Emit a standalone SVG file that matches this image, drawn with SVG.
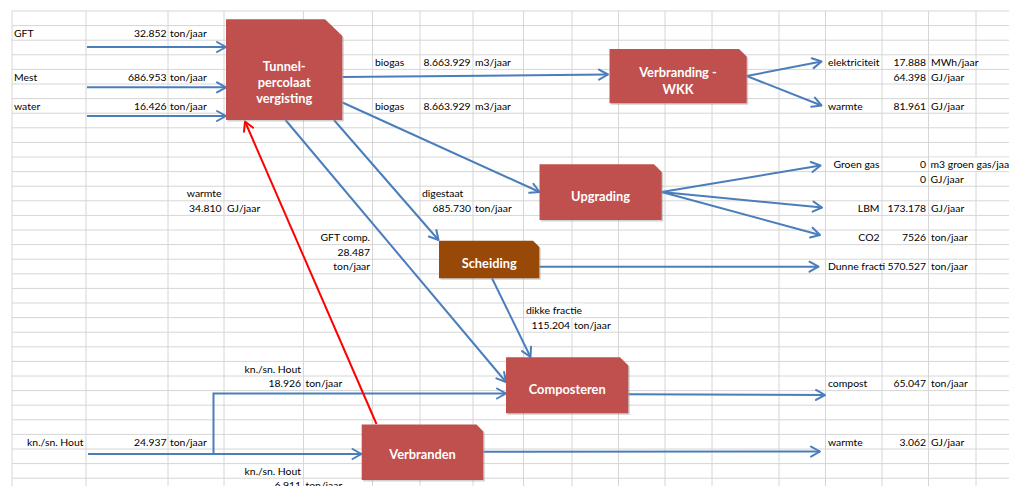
<svg xmlns="http://www.w3.org/2000/svg" width="1009" height="486" viewBox="0 0 1009 486">
  <style>
    .grid { stroke: #d6d6d6; stroke-width: 1; fill: none; }
    .cell { font-family: Lato, "Liberation Sans", sans-serif; font-size: 10.4px; fill: #000; }
    .r { text-anchor: end; }
    .box { fill: #c0504d; }
    .box-brown { fill: #984807; }
    .shadow { fill: #9a9a9a; opacity: 0.45; }
    .label { font-family: Lato, "Liberation Sans", sans-serif; font-size: 12.8px; font-weight: bold; fill: #fff; text-anchor: middle; }
    .conn { stroke: #4a7ebb; stroke-width: 2; fill: none; marker-end: url(#arrow); }
    .conn-red { stroke: #ff0000; stroke-width: 2; fill: none; marker-end: url(#arrow-red); }
  </style>
  <defs>
    <marker id="arrow" viewBox="-11 -7 13 14" refX="0" refY="0" markerWidth="13" markerHeight="14" markerUnits="userSpaceOnUse" orient="auto">
      <path d="M-9,-5 L0,0 L-9,5" fill="none" stroke="#4a7ebb" stroke-width="2" stroke-linejoin="round" stroke-linecap="round"/>
    </marker>
    <marker id="arrow-red" viewBox="-11 -7 13 14" refX="0" refY="0" markerWidth="13" markerHeight="14" markerUnits="userSpaceOnUse" orient="auto">
      <path d="M-9,-5 L0,0 L-9,5" fill="none" stroke="#ff0000" stroke-width="2" stroke-linejoin="round" stroke-linecap="round"/>
    </marker>
  </defs>

  <rect width="1009" height="486" fill="#fff"/>

  <!-- worksheet gridlines -->
  <g id="grid">
    <path class="grid" d="M12 11H1009M12 25.6H1009M12 40.2H1009M12 54.8H1009M12 69.4H1009M12 84H1009M12 98.6H1009M12 113.2H1009M12 127.8H1009M12 142.4H1009M12 157H1009M12 171.6H1009M12 186.2H1009M12 200.8H1009M12 215.4H1009M12 230H1009M12 244.6H1009M12 259.2H1009M12 273.8H1009M12 288.4H1009M12 303H1009M12 317.6H1009M12 332.2H1009M12 346.8H1009M12 361.4H1009M12 376H1009M12 390.6H1009M12 405.2H1009M12 419.8H1009M12 434.4H1009M12 449H1009M12 463.6H1009M12 478.2H1009"/>
    <path class="grid" d="M12 11V486M86 11V486M168 11V486M224 11V486M303.5 11V486M372.5 11V486M420 11V486M473 11V486M523.5 11V486M572 11V486M618.5 11V486M665 11V486M712 11V486M779 11V486M825.5 11V486M882 11V486M928.5 11V486M976 11V486"/>
    <!-- cells whose text runs over the next column -->
    <rect x="929.5" y="157.6" width="80" height="13.5" fill="#fff"/>
    <rect x="524.5" y="303.6" width="60" height="13.5" fill="#fff"/>
  </g>

  <!-- cell values -->
  <g id="cells">
    <text class="cell" x="14" y="36.7">GFT</text>
    <text class="cell r" x="166.5" y="36.7">32.852</text>
    <text class="cell" x="170" y="36.7">ton/jaar</text>

    <text class="cell" x="14" y="80.5">Mest</text>
    <text class="cell r" x="166.5" y="80.5">686.953</text>
    <text class="cell" x="170" y="80.5">ton/jaar</text>

    <text class="cell" x="14" y="109.7">water</text>
    <text class="cell r" x="166.5" y="109.7">16.426</text>
    <text class="cell" x="170" y="109.7">ton/jaar</text>

    <text class="cell" x="375" y="65.9">biogas</text>
    <text class="cell r" x="470.5" y="65.9">8.663.929</text>
    <text class="cell" x="475" y="65.9">m3/jaar</text>

    <text class="cell" x="375" y="109.7">biogas</text>
    <text class="cell r" x="470.5" y="109.7">8.663.929</text>
    <text class="cell" x="475" y="109.7">m3/jaar</text>

    <text class="cell" x="828" y="65.9">elektriciteit</text>
    <text class="cell r" x="926" y="65.9">17.888</text>
    <text class="cell" x="931" y="65.9">MWh/jaar</text>
    <text class="cell r" x="926" y="80.5">64.398</text>
    <text class="cell" x="931" y="80.5">GJ/jaar</text>
    <text class="cell" x="828" y="109.7">warmte</text>
    <text class="cell r" x="926" y="109.7">81.961</text>
    <text class="cell" x="931" y="109.7">GJ/jaar</text>

    <text class="cell r" x="879.5" y="168.1">Groen gas</text>
    <text class="cell r" x="926" y="168.1">0</text>
    <text class="cell" x="930.5" y="168.1">m3 groen gas/jaar</text>
    <text class="cell r" x="926" y="182.7">0</text>
    <text class="cell" x="930.5" y="182.7">GJ/jaar</text>
    <text class="cell r" x="879.5" y="211.9">LBM</text>
    <text class="cell r" x="926" y="211.9">173.178</text>
    <text class="cell" x="931" y="211.9">GJ/jaar</text>
    <text class="cell r" x="879.5" y="241.1">CO2</text>
    <text class="cell r" x="926" y="241.1">7526</text>
    <text class="cell" x="931" y="241.1">ton/jaar</text>
    <text class="cell" x="828" y="270.3">Dunne fracti</text>
    <text class="cell r" x="926" y="270.3">570.527</text>
    <text class="cell" x="931" y="270.3">ton/jaar</text>

    <text class="cell r" x="221.5" y="197.3">warmte</text>
    <text class="cell r" x="221.5" y="211.9">34.810</text>
    <text class="cell" x="227" y="211.9">GJ/jaar</text>

    <text class="cell" x="422" y="197.3">digestaat</text>
    <text class="cell r" x="471" y="211.9">685.730</text>
    <text class="cell" x="475" y="211.9">ton/jaar</text>

    <text class="cell r" x="370" y="241.1">GFT comp.</text>
    <text class="cell r" x="370" y="255.7">28.487</text>
    <text class="cell r" x="370" y="270.3">ton/jaar</text>

    <text class="cell" x="526" y="314.1">dikke fractie</text>
    <text class="cell r" x="570" y="328.7">115.204</text>
    <text class="cell" x="574" y="328.7">ton/jaar</text>

    <text class="cell r" x="301" y="372.5">kn./sn. Hout</text>
    <text class="cell r" x="301" y="387.1">18.926</text>
    <text class="cell" x="305.5" y="387.1">ton/jaar</text>

    <text class="cell" x="828" y="387.1">compost</text>
    <text class="cell r" x="926" y="387.1">65.047</text>
    <text class="cell" x="931" y="387.1">ton/jaar</text>

    <text class="cell r" x="83.5" y="445.5">kn./sn. Hout</text>
    <text class="cell r" x="166.5" y="445.5">24.937</text>
    <text class="cell" x="170" y="445.5">ton/jaar</text>

    <text class="cell" x="828" y="445.5">warmte</text>
    <text class="cell r" x="926" y="445.5">3.062</text>
    <text class="cell" x="931" y="445.5">GJ/jaar</text>

    <text class="cell r" x="301" y="474.7">kn./sn. Hout</text>
    <text class="cell r" x="301" y="489.3">6.911</text>
    <text class="cell" x="305.5" y="489.3">ton/jaar</text>
  </g>

  <!-- flows -->
  <g id="connectors">
    <path class="conn" d="M87 47H226"/>
    <path class="conn" d="M87 87.3H226"/>
    <path class="conn" d="M87 116H226"/>
    <path class="conn" d="M342.5 77L608 74.5"/>
    <path class="conn" d="M342.5 102.5L539.5 192"/>
    <path class="conn" d="M334 120L438.5 240"/>
    <path class="conn" d="M285.5 120L506 382"/>
    <path class="conn" d="M746.7 76L821.5 61.5"/>
    <path class="conn" d="M746.7 76L821.5 105.5"/>
    <path class="conn" d="M661.7 192L820.5 165.5"/>
    <path class="conn" d="M661.7 192L822 207.5"/>
    <path class="conn" d="M661.7 192L820 235"/>
    <path class="conn" d="M539.3 266.7H818.5"/>
    <path class="conn" d="M492 278.3L530.5 357"/>
    <path class="conn" d="M628.3 394.3L825 395"/>
    <path class="conn" d="M483.3 451.7L820 451.5"/>
    <path class="conn" d="M88 454H361.5"/>
    <path class="conn" d="M213.5 454V393.5H506"/>
    <path class="conn-red" d="M376.5 424L245 121.5"/>
  </g>

  <!-- process steps -->
  <g id="tunnel-vergisting">
    <polygon class="shadow" points="227.5,20.8 326.5,20.8 343.8,37.5 343.8,121.5 227.5,121.5"/>
    <polygon class="box" points="226,19.3 325,19.3 342.3,36 342.3,120 226,120"/>
    <text class="label" x="284.2" y="70.5">Tunnel-</text>
    <text class="label" x="284.2" y="86.7">percolaat</text>
    <text class="label" x="284.2" y="102.8">vergisting</text>
  </g>

  <g id="verbranding-wkk">
    <polygon class="shadow" points="611,50.5 740.5,50.5 748.2,58 748.2,104.8 611,104.8"/>
    <polygon class="box" points="609.5,49 739,49 746.7,56.5 746.7,103.3 609.5,103.3"/>
    <text class="label" x="678" y="77">Verbranding -</text>
    <text class="label" x="678" y="93.5">WKK</text>
  </g>

  <g id="upgrading">
    <polygon class="shadow" points="541,165.8 655.5,165.8 663.2,173.5 663.2,221.5 541,221.5"/>
    <polygon class="box" points="539.5,164.3 654,164.3 661.7,172 661.7,220 539.5,220"/>
    <text class="label" x="600.6" y="200.5">Upgrading</text>
  </g>

  <g id="scheiding">
    <polygon class="shadow" points="440.5,242.2 534.5,242.2 540.8,248.5 540.8,279.8 440.5,279.8"/>
    <polygon class="box-brown" points="439,240.7 533,240.7 539.3,247 539.3,278.3 439,278.3"/>
    <text class="label" x="489.2" y="267.5">Scheiding</text>
  </g>

  <g id="composteren">
    <polygon class="shadow" points="507.5,358.8 621.5,358.8 629.8,367 629.8,414.8 507.5,414.8"/>
    <polygon class="box" points="506,357.3 620,357.3 628.3,365.5 628.3,413.3 506,413.3"/>
    <text class="label" x="567.2" y="393.5">Composteren</text>
  </g>

  <g id="verbranden">
    <polygon class="shadow" points="363.2,426 478,426 484.8,433 484.8,481.5 363.2,481.5"/>
    <polygon class="box" points="361.7,424.5 476.5,424.5 483.3,431.5 483.3,480 361.7,480"/>
    <text class="label" x="422.5" y="458.5">Verbranden</text>
  </g>
</svg>
